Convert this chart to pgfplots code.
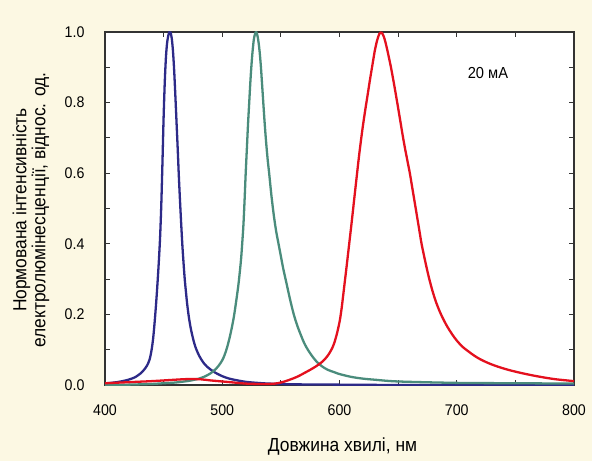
\documentclass[border=0pt]{standalone}
\usepackage{fontspec}
\setmainfont{Liberation Sans}[FakeStretch=0.92]
\usepackage{pgfplots}
\pgfplotsset{compat=1.18}
\definecolor{bgc}{HTML}{FCF8E3}
\definecolor{cblue}{HTML}{2D2A88}
\definecolor{cgreen}{HTML}{4A8C7C}
\definecolor{cred}{HTML}{E4101E}
\definecolor{frame}{HTML}{333333}
\begin{document}
\begin{tikzpicture}
\path[use as bounding box, fill=bgc] (-105bp,-76bp) rectangle (487bp,385bp);
\begin{axis}[
  at={(0,0)}, anchor=south west,
  scale only axis, width=469bp, height=353bp,
  xmin=400, xmax=800, ymin=0, ymax=1,
  axis background/.style={fill=white},
  axis line style={frame, line width=1.2pt},
  xtick={400,500,600,700,800}, minor xtick={450,550,650,750},
  ytick={0,0.2,0.4,0.6,0.8,1.0}, minor ytick={0.1,0.3,0.5,0.7,0.9},
  major tick length=5bp, minor tick length=5bp,
  tick style={frame, line width=0.8pt},
  tick align=inside,
  xticklabel style={yshift=-16bp},
  yticklabel style={xshift=-17bp},
  yticklabel={\pgfmathprintnumber[fixed,fixed zerofill,precision=1]{\tick}},
  /pgf/number format/assume math mode=true,
  ticklabel style={font=\fontsize{15.5}{17}\selectfont, text=black},
  clip=true,
]
\addplot[cblue, line width=2.3pt, smooth, tension=0.5] coordinates {
(400,0.004) (405,0.006) (410,0.008) (415,0.011) (420,0.015) (425,0.021) (428,0.027)
(430,0.032) (432,0.038) (434,0.046) (436,0.056) (437,0.063) (438,0.072) (439,0.086)
(440,0.105) (441,0.13) (442,0.165) (443,0.205) (444,0.25) (445,0.3) (446,0.355)
(447,0.42) (448,0.51) (449,0.63) (450,0.76) (451,0.86) (452,0.93) (453,0.97)
(454,0.99) (455,1.0) (456,0.998) (457,0.98) (458,0.945) (459,0.89) (460,0.82)
(461,0.745) (462,0.67) (463,0.59) (464,0.52) (465,0.455) (466,0.395) (467,0.345)
(468,0.3) (469,0.265) (470,0.232) (471,0.205) (472,0.182) (473,0.163) (474,0.147)
(475,0.133) (476,0.12) (477,0.109) (478,0.1) (480,0.085) (482,0.073) (484,0.063)
(487,0.052) (490,0.044) (494,0.035) (500,0.025) (505,0.019) (510,0.015) (520,0.009)
(530,0.006) (540,0.004) (560,0.002) (600,0.001) (650,0.0) (700,0.0) (800,0.0)
};
\addplot[cgreen, line width=2.3pt, smooth, tension=0.5] coordinates {
(400,0.0) (420,0.001) (440,0.003) (450,0.005) (460,0.007) (470,0.011) (475,0.014)
(480,0.018) (485,0.024) (490,0.033) (494,0.044) (497,0.055) (500,0.07) (502,0.085)
(504,0.105) (506,0.13) (508,0.16) (510,0.195) (512,0.24) (514,0.29) (516,0.355)
(517,0.4) (518,0.45) (519,0.52) (520,0.6) (521,0.67) (522,0.74) (523,0.8)
(524,0.86) (525,0.91) (526,0.95) (527,0.98) (528,0.995) (529,1.0) (530,0.99)
(531,0.97) (532,0.94) (533,0.9) (534,0.85) (535,0.8) (536,0.75) (537,0.705)
(538,0.665) (539,0.63) (540,0.6) (542,0.535) (544,0.48) (546,0.435) (548,0.4)
(550,0.365) (552,0.33) (555,0.285) (558,0.24) (561,0.2) (564,0.168) (567,0.142)
(570,0.118) (573,0.1) (576,0.085) (580,0.068) (585,0.053) (590,0.043) (595,0.037)
(600,0.031) (610,0.023) (620,0.018) (630,0.015) (650,0.01) (700,0.006) (750,0.005) (800,0.004)
};
\addplot[cred, line width=2.3pt, smooth, tension=0.5] coordinates {
(400,0.005) (420,0.008) (440,0.011) (455,0.014) (465,0.016) (473,0.017) (482,0.016)
(490,0.013) (500,0.01) (510,0.007) (520,0.004) (530,0.003) (540,0.003) (545,0.004)
(550,0.007) (555,0.012) (560,0.018) (565,0.025) (570,0.034) (575,0.043) (580,0.053)
(585,0.065) (588,0.075) (591,0.088) (594,0.106) (596,0.124) (598,0.148) (600,0.178)
(601,0.198) (602,0.222) (603,0.25) (604,0.278) (605,0.306) (606,0.334) (607,0.363)
(608,0.392) (610,0.45) (612,0.51) (614,0.57) (616,0.63) (618,0.685) (620,0.735)
(622,0.78) (624,0.822) (626,0.865) (628,0.905) (630,0.945) (632,0.975) (634,0.995)
(636,0.998) (638,0.985) (640,0.96) (642,0.93) (644,0.898) (646,0.862) (648,0.824)
(650,0.785) (652,0.745) (654,0.705) (656,0.668) (658,0.634) (660,0.6) (662,0.56)
(664,0.52) (666,0.48) (668,0.44) (670,0.4) (673,0.352) (676,0.308) (679,0.27)
(682,0.238) (685,0.212) (688,0.19) (692,0.165) (696,0.144) (700,0.126) (705,0.108)
(710,0.095) (715,0.083) (720,0.073) (727,0.062) (735,0.052) (745,0.042) (755,0.034)
(765,0.027) (775,0.021) (785,0.016) (800,0.011)
};
\node[cblue, anchor=base, font=\fontsize{16}{18}\selectfont] at (axis cs:456,1) [yshift=9bp] {456};
\node[cgreen, anchor=base, font=\fontsize{16}{18}\selectfont] at (axis cs:529,1) [yshift=9bp] {529};
\node[cred, anchor=base, font=\fontsize{16}{18}\selectfont] at (axis cs:633,1) [yshift=9bp] {633};
\node[black, font=\fontsize{16}{18}\selectfont] at (axis cs:726.6,0.884) {20 мА};
\end{axis}
\node[rotate=90, align=center, font=\fontsize{19}{19}\selectfont] at (-74bp,175bp) {Нормована інтенсивність\\електролюмінесценції, віднос. од.};
\node[font=\fontsize{19}{21}\selectfont] at (237.5bp,-62bp) {Довжина хвилі, нм};
\end{tikzpicture}
\end{document}
